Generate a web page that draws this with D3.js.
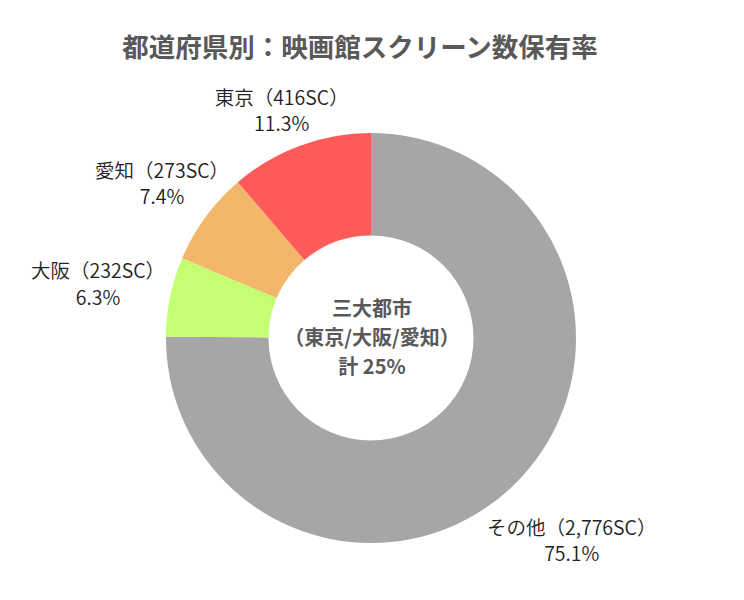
<!DOCTYPE html>
<html>
<head>
<meta charset="utf-8">
<script src="https://cdn.jsdelivr.net/npm/d3@7"></script>
<style>
  body { margin: 0; background: #fff; }
  text { font-family: "Noto Sans CJK JP", "Noto Sans", sans-serif; }
</style>
</head>
<body>
<div id="chart"></div>
<script>
// data
var names = ["その他", "大阪", "愛知", "東京"];
var screens = [2776, 232, 273, 416];
var colors = ["#a6a6a6", "#c3fe73", "#f3b76c", "#ff5a5a"];

var titleText = "都道府県別：映画館スクリーン数保有率";
var centerLines = ["三大都市", "（東京/大阪/愛知）", "計 25%"];

// layout
var svgWidth = 744;
var svgHeight = 600;
var cx = 371, cy = 338;
var outerR = 205, innerR = 102.5;
var labelDist = [296, 269, 249, 235];   // distance of each label from the pie centre
var labelTurn = [0, -1.6, 0, 0];         // small angular nudge (degrees)
var labelShiftX = -8;

var svg = d3.select("#chart")
    .append("svg")
    .attr("width", svgWidth)
    .attr("height", svgHeight);

// title
svg.append("text")
    .attr("x", 360)
    .attr("y", 57)
    .attr("text-anchor", "middle")
    .attr("font-size", "26.5px")
    .attr("font-weight", "bold")
    .attr("fill", "#595959")
    .text(titleText);

var total = d3.sum(screens);
var slices = names.map(function(n, i) {
    return { name: n, value: screens[i], color: colors[i], i: i };
});

var pie = d3.pie()
    .sort(null)
    .value(d => d.value);

var arc = d3.arc()
    .innerRadius(innerR)
    .outerRadius(outerR);

var chartGroup = svg.append("g")
    .attr("transform", `translate(${cx}, ${cy})`);

chartGroup.selectAll("path")
    .data(pie(slices))
    .enter()
    .append("path")
    .attr("d", arc)
    .attr("fill", d => d.data.color);

// slice labels
var fmt = d3.format(",");
var labelGroup = svg.append("g");

pie(slices).forEach(function(d) {
    var a = (d.startAngle + d.endAngle) / 2 + labelTurn[d.data.i] * Math.PI / 180;
    var r = labelDist[d.data.i];
    var x = cx + labelShiftX + Math.sin(a) * r;
    var y = cy - Math.cos(a) * r;
    var t = labelGroup.append("text")
        .attr("text-anchor", "middle")
        .attr("font-size", "19.5px")
        .attr("font-weight", 350)
        .attr("fill", "#222");
    t.append("tspan")
        .attr("x", x)
        .attr("y", y - 13)
        .text(d.data.name + "（" + fmt(d.data.value) + "SC）");
    t.append("tspan")
        .attr("x", x)
        .attr("y", y + 13.5)
        .text((d.data.value / total * 100).toFixed(1) + "%");
});

// centre text
var centerText = svg.append("text")
    .attr("text-anchor", "middle")
    .attr("font-size", "20px")
    .attr("font-weight", "bold")
    .attr("fill", "#595959");

centerLines.forEach(function(line, i) {
    centerText.append("tspan")
        .attr("x", cx + 1)
        .attr("y", 316 + i * 29)
        .text(line);
});
</script>
</body>
</html>
